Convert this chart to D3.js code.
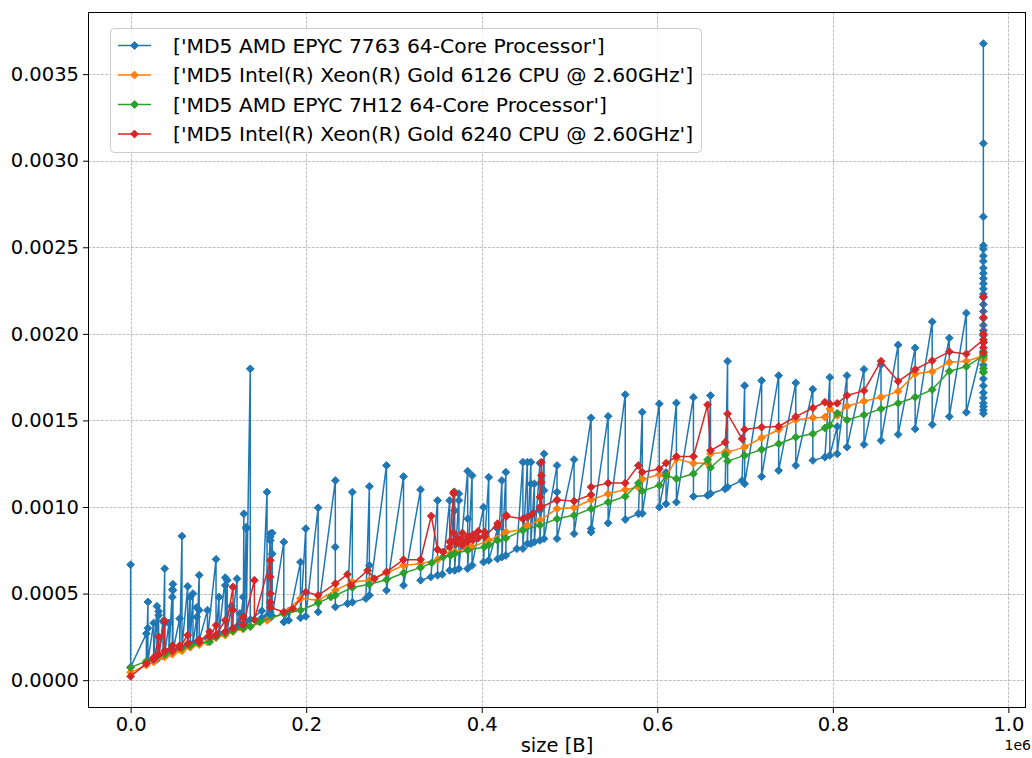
<!DOCTYPE html>
<html>
<head>
<meta charset="utf-8">
<script src="https://cdn.jsdelivr.net/npm/d3@7"></script>
<style>
  body { margin: 0; background: #fff; }
  svg { display: block; font-family: "DejaVu Sans", sans-serif; }
</style>
</head>
<body>
<svg id="chart" width="1032" height="758"></svg>
<script>
// size in kB, hash time in ms. each row = [size, run1, run2, ...] in measured order
const amd7763 = [
  [0, 0.667, 0.075], [17.9, 0.269, 0.10], [19.7, 0.452, 0.30, 0.11], [26.2, 0.33, 0.12],
  [30, 0.427, 0.12], [31.9, 0.398, 0.375, 0.13], [36.8, 0.34, 0.14], [38.8, 0.644, 0.33, 0.15],
  [43.7, 0.33, 0.16], [47.5, 0.523, 0.48, 0.17], [48.2, 0.554, 0.519, 0.17], [55.9, 0.356, 0.18],
  [58.5, 0.832, 0.19], [65, 0.542, 0.20], [67.8, 0.48, 0.21], [71, 0.50, 0.21],
  [75.3, 0.365, 0.42, 0.22], [78.1, 0.606, 0.404, 0.23], [87.5, 0.404, 0.24], [97.3, 0.698, 0.26],
  [100.7, 0.48, 0.27], [107.8, 0.592, 0.548, 0.28], [110, 0.577, 0.28], [114.8, 0.427, 0.29],
  [121.2, 0.586, 0.31], [124.5, 0.385, 0.31], [128.3, 0.48, 0.32], [129, 0.961, 0.33],
  [131.7, 0.875, 0.884, 0.34], [136.3, 1.798, 0.35], [149.4, 0.40, 0.36], [155.4, 1.086, 0.37],
  [159.1, 0.846, 0.827, 0.807, 0.50, 0.45, 0.39, 0.36], [161.3, 0.85, 0.73, 0.37],
  [174.5, 0.798, 0.336], [180, 0.40, 0.346], [193.5, 0.682, 0.36], [199.5, 0.875, 0.369],
  [213.6, 0.996, 0.394], [233.2, 1.153, 0.769, 0.423], [247, 0.442], [252.6, 1.086, 0.45],
  [268, 0.471], [272, 1.119, 0.663, 0.49], [291.5, 1.24, 0.519], [310.9, 1.176, 0.548],
  [330.3, 1.1, 0.577], [342, 0.596], [349.7, 1.038, 0.606], [355, 0.611],
  [363.5, 1.038, 0.634], [369.2, 1.086, 0.98, 0.634], [374, 1.077, 1.038, 0.644],
  [384, 1.207, 0.932, 0.644], [389, 1.182, 0.663], [402, 0.999, 0.682], [408, 1.172, 0.692],
  [418, 0.875, 0.70], [423, 1.153, 0.711], [427.5, 1.201, 0.72], [440, 0.759],
  [446.9, 1.259, 0.76], [452, 1.259, 0.788], [456, 1.259, 1.134, 0.788], [460, 1.134, 0.798],
  [466.3, 1.253, 0.98, 0.807], [471, 1.307, 1.096, 0.817], [485.8, 1.24, 1.086, 1.038, 0.817],
  [505.2, 1.274, 0.846], [524.6, 1.515, 0.875, 0.855], [544, 1.524, 0.907], [563.5, 1.649, 0.928],
  [578.5, 0.961], [582.9, 1.548, 0.963], [602.3, 1.596, 0.999], [610, 1.2, 1.018],
  [621.8, 1.601, 1.028], [641.2, 1.634, 1.061], [657.3, 1.067], [660.6, 1.644, 1.077],
  [677.3, 1.105], [680.1, 1.842, 1.115], [696.6, 1.153], [699.5, 1.701, 1.134],
  [718.9, 1.73, 1.176], [738.3, 1.759, 1.211], [757.8, 1.717, 1.24], [777.2, 1.68, 1.269],
  [791, 1.288], [796.6, 1.749, 1.298], [805, 1.465, 1.307], [816.1, 1.759, 1.346],
  [835.5, 1.795, 1.361], [854.9, 1.822, 1.384], [874.4, 1.936, 1.419], [893.8, 1.919, 1.451],
  [913.2, 2.07, 1.476], [932.7, 1.976, 1.522], [952.1, 2.12, 1.547],
  [971.5, 1.95, 3.676, 3.10, 2.676, 2.51, 2.49, 2.45, 2.42, 2.38, 2.35, 2.32, 2.29, 2.26, 2.23,
    2.21, 2.17, 2.13, 2.09, 2.05, 2.02, 1.99, 1.95, 1.90, 1.86, 1.82, 1.78, 1.74, 1.70, 1.66,
    1.63, 1.60, 1.58, 1.56, 1.54]
];

const xeon6126 = [
  [0, 0.045], [17.9, 0.087], [26.2, 0.105], [38.8, 0.135], [47.5, 0.15], [58.5, 0.17],
  [67.8, 0.19], [78.1, 0.205], [87.5, 0.22], [97.3, 0.245], [107.8, 0.26], [116.6, 0.28],
  [128.3, 0.295], [136.3, 0.31], [155.4, 0.345], [174.5, 0.39], [193.5, 0.471], [213.6, 0.461],
  [233.2, 0.519], [252.6, 0.567], [272, 0.577], [291.5, 0.619], [310.9, 0.663], [330.3, 0.673],
  [349.7, 0.696], [364.5, 0.73], [369.2, 0.74], [384, 0.765], [389, 0.77], [408, 0.807],
  [427.5, 0.855], [446.9, 0.87], [452, 0.894], [466.3, 0.923], [485.8, 0.99], [505.2, 0.996],
  [524.6, 1.042], [544, 1.076], [563.5, 1.1], [578.5, 1.115], [582.9, 1.16], [602.3, 1.188],
  [610, 1.176], [621.8, 1.278], [641.2, 1.253], [657.3, 1.253], [660.6, 1.307], [677.3, 1.317],
  [680.1, 1.317], [699.5, 1.346], [718.9, 1.4], [738.3, 1.446], [757.8, 1.503], [777.2, 1.515],
  [791, 1.519], [796.6, 1.567], [805, 1.528], [816.1, 1.582], [835.5, 1.611], [854.9, 1.634],
  [874.4, 1.668], [893.8, 1.769], [913.2, 1.782], [932.7, 1.836], [952.1, 1.842],
  [971.5, 1.874, 1.89, 1.86, 1.85]
];

const amd7h12 = [
  [0, 0.073], [17.9, 0.11], [26.2, 0.12], [38.8, 0.15], [47.5, 0.165], [58.5, 0.185],
  [67.8, 0.20], [78.1, 0.215], [90, 0.221], [97.3, 0.25], [107.8, 0.27], [116.6, 0.285],
  [128.3, 0.30], [136.3, 0.31], [147, 0.336], [174.5, 0.385], [193.5, 0.404], [213.6, 0.446],
  [228, 0.48], [233.2, 0.49], [252.6, 0.535], [272, 0.554], [291.5, 0.58], [310.9, 0.619],
  [330.3, 0.65], [342.9, 0.677], [356, 0.711], [364.5, 0.72], [369.2, 0.73], [384, 0.75],
  [403, 0.769], [408, 0.78], [418, 0.807], [427.5, 0.82], [446.9, 0.865], [466.3, 0.894],
  [485.8, 0.932], [505.2, 0.952], [524.6, 0.99], [544, 1.028], [563.5, 1.061], [578.5, 1.138],
  [582.9, 1.092], [602.3, 1.125], [610, 1.182], [621.8, 1.163], [641.2, 1.192], [657.3, 1.273],
  [660.6, 1.227], [677.3, 1.303], [680.1, 1.265], [699.5, 1.298], [718.9, 1.332], [738.3, 1.365],
  [757.8, 1.403], [777.2, 1.423], [791, 1.457], [796.6, 1.471], [805, 1.542], [816.1, 1.503],
  [835.5, 1.532], [854.9, 1.567], [874.4, 1.599], [893.8, 1.634], [913.2, 1.678], [932.7, 1.784],
  [952.1, 1.811], [971.5, 1.874, 1.80, 1.778]
];

const xeon6240 = [
  [0, 0.022], [17.9, 0.096], [26.2, 0.13, 0.12], [32, 0.25, 0.15], [38.8, 0.342, 0.17],
  [47.5, 0.2, 0.17], [55.9, 0.2, 0.19], [65, 0.26, 0.21], [78.1, 0.235, 0.22], [90, 0.279, 0.25],
  [97.3, 0.317, 0.26], [107.8, 0.346, 0.28], [116.6, 0.538, 0.404, 0.30], [128.3, 0.365, 0.32],
  [141, 0.577, 0.35], [159.1, 0.692, 0.596, 0.50, 0.45, 0.42], [174.5, 0.394], [185, 0.413],
  [199.5, 0.509], [213.6, 0.49], [233.2, 0.558], [247, 0.611], [251, 0.548], [270, 0.634],
  [277.6, 0.586], [291.5, 0.625], [310.9, 0.696], [330.3, 0.696], [342.5, 0.948], [349.7, 0.754],
  [356, 0.74], [363.5, 0.769, 0.80], [368, 1.086, 1.077, 0.85, 0.80], [372, 0.82, 0.79],
  [378, 0.85, 0.81, 0.78], [384, 0.83, 0.80], [390, 0.84, 0.81], [396, 0.86, 0.82],
  [403.6, 0.855, 0.83], [418, 0.904, 0.888], [428, 0.952, 0.946], [446.9, 0.932], [452, 0.942],
  [458, 0.961], [466.3, 0.999, 1.057], [468, 1.144, 1.259, 1.182, 1.00], [485.8, 1.042],
  [505.2, 1.034], [524.6, 1.071, 1.115], [544, 1.138], [563.5, 1.138], [578.5, 1.24],
  [582.9, 1.201], [602.3, 1.22], [610, 1.253], [621.8, 1.292], [641.2, 1.292], [657.3, 1.59],
  [660.6, 1.326], [677.3, 1.374], [680.1, 1.538], [696.6, 1.394], [699.5, 1.447], [718.9, 1.461],
  [738.3, 1.465], [757.8, 1.522], [777.2, 1.572], [791, 1.605], [796.6, 1.595], [805, 1.599],
  [816.1, 1.644], [835.5, 1.672], [854.9, 1.842], [874.4, 1.726], [893.8, 1.794], [913.2, 1.845],
  [932.7, 1.897], [952.1, 1.884], [971.5, 1.966, 2.214, 2.095, 2.0, 1.95, 1.92, 1.89]
];

const seriesNames = [
  "['MD5 AMD EPYC 7763 64-Core Processor']",
  "['MD5 Intel(R) Xeon(R) Gold 6126 CPU @ 2.60GHz']",
  "['MD5 AMD EPYC 7H12 64-Core Processor']",
  "['MD5 Intel(R) Xeon(R) Gold 6240 CPU @ 2.60GHz']"
];
const seriesColors = ['#1f77b4', '#ff7f0e', '#2ca02c', '#d62728'];
const xTicks = [0, 200000, 400000, 600000, 800000, 1000000];
const yTicks = [0, 0.0005, 0.001, 0.0015, 0.002, 0.0025, 0.003, 0.0035];

// -------------------------------------------------------------------------
const width = 1032, height = 758;
const plot = { left: 88, right: 1026, top: 12, bottom: 708 };
const tickFont = 19.5;
const legendFont = 20.3;

function toPoints(rows) {
  return rows.flatMap(r => r.slice(1).map(t => ({ x: r[0] * 1000, y: t / 1000 })));
}

const series = [amd7763, xeon6126, amd7h12, xeon6240].map((rows, i) => ({
  name: seriesNames[i],
  color: seriesColors[i],
  points: toPoints(rows)
}));

const allPoints = series.flatMap(s => s.points);
function padded(ext) {
  const m = (ext[1] - ext[0]) * 0.05;
  return [ext[0] - m, ext[1] + m];
}

const x = d3.scaleLinear()
  .domain(padded(d3.extent(allPoints, d => d.x)))
  .range([plot.left, plot.right]);
const y = d3.scaleLinear()
  .domain(padded(d3.extent(allPoints, d => d.y)))
  .range([plot.bottom, plot.top]);

const svg = d3.select('#chart');
svg.append('rect').attr('width', width).attr('height', height).attr('fill', '#fff');

// grid
const grid = svg.append('g').attr('class', 'grid')
  .attr('stroke', '#b0b0b0').attr('stroke-width', 0.8).attr('stroke-dasharray', '3,1.3');
grid.selectAll('.gx').data(xTicks).enter().append('line')
  .attr('x1', d => Math.round(x(d)) + 0.5).attr('x2', d => Math.round(x(d)) + 0.5)
  .attr('y1', plot.top).attr('y2', plot.bottom);
grid.selectAll('.gy').data(yTicks).enter().append('line')
  .attr('y1', d => Math.round(y(d)) + 0.5).attr('y2', d => Math.round(y(d)) + 0.5)
  .attr('x1', plot.left).attr('x2', plot.right);

// series
const r = 3.9;
const diamond = `M0,${-r}L${r},0L0,${r}L${-r},0Z`;
const line = d3.line().x(d => x(d.x)).y(d => y(d.y));

series.forEach(s => {
  const g = svg.append('g');
  g.append('path')
    .datum(s.points)
    .attr('d', line)
    .attr('fill', 'none')
    .attr('stroke', s.color)
    .attr('stroke-width', 1.5)
    .attr('stroke-linejoin', 'round');
  g.selectAll('.m').data(s.points).enter().append('path')
    .attr('d', diamond)
    .attr('transform', d => `translate(${x(d.x)},${y(d.y)})`)
    .attr('fill', s.color)
    .attr('stroke', s.color)
    .attr('stroke-width', 1);
});

// axes
const xAxis = d3.axisBottom(x).tickValues(xTicks)
  .tickFormat(d => (d / 1e6).toFixed(1)).tickSize(5).tickPadding(4);
const yAxis = d3.axisLeft(y).tickValues(yTicks)
  .tickFormat(d3.format('.4f')).tickSize(5).tickPadding(4);

const gx = svg.append('g').attr('transform', `translate(0,${plot.bottom})`).call(xAxis);
const gy = svg.append('g').attr('transform', `translate(${plot.left},0)`).call(yAxis);
[gx, gy].forEach(g => {
  g.select('.domain').remove();
  g.selectAll('text').attr('font-size', tickFont).attr('font-family', '"DejaVu Sans", sans-serif').attr('fill', '#000');
  g.selectAll('line').attr('stroke', '#000').attr('stroke-width', 1);
});

// frame
svg.append('rect')
  .attr('x', plot.left + 0.5).attr('y', plot.top + 0.5)
  .attr('width', plot.right - plot.left - 1).attr('height', plot.bottom - plot.top - 1)
  .attr('fill', 'none').attr('stroke', '#000').attr('stroke-width', 1);

svg.append('text')
  .attr('x', (plot.left + plot.right) / 2).attr('y', 752)
  .attr('text-anchor', 'middle').attr('font-size', tickFont)
  .text('size [B]');
svg.append('text')
  .attr('x', 1031).attr('y', 750)
  .attr('text-anchor', 'end').attr('font-size', 14)
  .text('1e6');

// legend
const legend = svg.append('g');
legend.append('rect')
  .attr('x', 110.5).attr('y', 28.5).attr('width', 591).attr('height', 124).attr('rx', 4)
  .attr('fill', '#fff').attr('fill-opacity', 0.8)
  .attr('stroke', '#cccccc').attr('stroke-width', 1);
const items = legend.selectAll('.item').data(series).enter().append('g')
  .attr('transform', (d, i) => `translate(0,${45.5 + i * 29.5})`);
items.append('line')
  .attr('x1', 118).attr('x2', 151).attr('y1', 0).attr('y2', 0)
  .attr('stroke', d => d.color).attr('stroke-width', 1.5);
items.append('path')
  .attr('d', diamond).attr('transform', 'translate(134.5,0)')
  .attr('fill', d => d.color).attr('stroke', d => d.color);
items.append('text')
  .attr('x', 173).attr('y', 0).attr('dy', '0.35em')
  .attr('font-size', legendFont)
  .text(d => d.name);
</script>
</body>
</html>
